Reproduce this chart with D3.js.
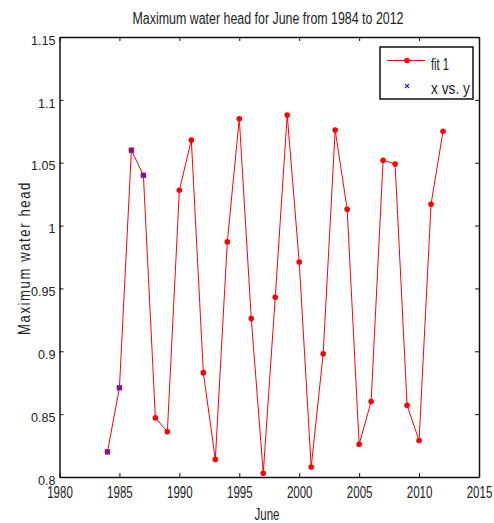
<!DOCTYPE html>
<html>
<head>
<meta charset="utf-8">
<script src="https://cdn.jsdelivr.net/npm/d3@7"></script>
<style>
  body { margin: 0; background: #fff; }
  svg text { font-family: "Liberation Sans", Arial, sans-serif; fill: #222; }
</style>
</head>
<body>
<script>
const width = 494
const height = 523
const margin = { top: 37, right: 15, bottom: 46, left: 59.5 }

// June maximum water head, 1984-2012
const years = [1984, 1985, 1986, 1987, 1988, 1989, 1990, 1991, 1992, 1993, 1994, 1995, 1996, 1997, 1998,
  1999, 2000, 2001, 2002, 2003, 2004, 2005, 2006, 2007, 2008, 2009, 2010, 2011, 2012]
const heads = [0.820, 0.871, 1.060, 1.040, 0.847, 0.836, 1.028, 1.068, 0.883, 0.814, 0.987, 1.085, 0.926, 0.803, 0.943,
  1.088, 0.971, 0.808, 0.898, 1.076, 1.013, 0.826, 0.860, 1.052, 1.049, 0.857, 0.829, 1.017, 1.075]
// raw points shown as "x vs. y"
const rawYears = [1984, 1985, 1986, 1987]
const rawHeads = [0.820, 0.871, 1.060, 1.040]

const xTicks = [1980, 1985, 1990, 1995, 2000, 2005, 2010, 2015]
const yTicks = [0.8, 0.85, 0.9, 0.95, 1, 1.05, 1.1, 1.15]

const svg = d3.select('body').append('svg')
    .attr('width', width)
    .attr('height', height)

// squeeze text horizontally, like the narrow Helvetica in the original
const condense = (sel, k) => sel.each(function () {
    const w = this.getComputedTextLength()
    d3.select(this).attr('textLength', w * k).attr('lengthAdjust', 'spacingAndGlyphs')
})

const xScale = d3.scaleLinear()
    .domain([1980, 2015])
    .range([margin.left, width - margin.right])

const yScale = d3.scaleLinear()
    .domain([0.8, 1.15])
    .range([height - margin.bottom, margin.top])

const x0 = margin.left, x1 = width - margin.right
const y0 = height - margin.bottom, y1 = margin.top

// axes (MATLAB style: ticks inside, on all four sides)
svg.append('g')
    .attr('transform', 'translate(0,' + y0 + ')')
    .call(d3.axisBottom(xScale).tickValues(xTicks).tickFormat(d3.format('d')).tickSizeInner(-4).tickSizeOuter(0).tickPadding(10))
    .call(g => g.selectAll('text').style('font-size', '16px').attr('dy', '0.716em').call(condense, 0.72))

svg.append('g')
    .attr('transform', 'translate(0,' + y1 + ')')
    .call(d3.axisTop(xScale).tickValues(xTicks).tickFormat('').tickSizeInner(-4).tickSizeOuter(0))

svg.append('g')
    .attr('transform', 'translate(' + x0 + ',0)')
    .call(d3.axisLeft(yScale).tickValues(yTicks).tickFormat(d3.format('')).tickSizeInner(-4).tickSizeOuter(0).tickPadding(4))
    .call(g => g.selectAll('text').style('font-size', '13.5px').attr('dy', '0.716em').attr('y', -2.5).call(condense, 0.93))

svg.append('g')
    .attr('transform', 'translate(' + x1 + ',0)')
    .call(d3.axisRight(yScale).tickValues(yTicks).tickFormat('').tickSizeInner(-4).tickSizeOuter(0))

svg.selectAll('.domain').attr('stroke', '#111').attr('stroke-width', 1.5)
svg.selectAll('.tick line').attr('stroke', '#111')
svg.selectAll('.tick text').attr('fill', '#222').style('font-family', '"Liberation Sans", Arial, sans-serif')

// fitted line
const line = d3.line()
    .x((d, i) => xScale(years[i]))
    .y(d => yScale(d))

svg.append('path')
    .datum(heads)
    .attr('d', line)
    .attr('fill', 'none')
    .attr('stroke', '#ff0000')
    .attr('stroke-width', 1)

svg.selectAll('circle.fit')
    .data(heads)
    .join('circle')
    .attr('class', 'fit')
    .attr('cx', (d, i) => xScale(years[i]))
    .attr('cy', d => yScale(d))
    .attr('r', 2.8)
    .attr('fill', '#ff0000')

// raw data x markers
const xMark = (cx, cy, s) => 'M' + (cx - s) + ',' + (cy - s) + 'L' + (cx + s) + ',' + (cy + s) +
    'M' + (cx - s) + ',' + (cy + s) + 'L' + (cx + s) + ',' + (cy - s)

svg.selectAll('path.raw')
    .data(rawHeads)
    .join('path')
    .attr('class', 'raw')
    .attr('d', (d, i) => xMark(xScale(rawYears[i]), yScale(d), 2.5))
    .attr('stroke', '#3a1ee8')
    .attr('stroke-width', 1.3)

// title and labels
svg.append('text')
    .attr('x', 268)
    .attr('y', 24)
    .attr('text-anchor', 'middle')
    .style('font-size', '16px')
    .attr('textLength', 271)
    .attr('lengthAdjust', 'spacingAndGlyphs')
    .text('Maximum water head for June from 1984 to 2012')

svg.append('text')
    .attr('x', 267)
    .attr('y', 519.5)
    .attr('text-anchor', 'middle')
    .style('font-size', '16px')
    .attr('textLength', 25)
    .attr('lengthAdjust', 'spacingAndGlyphs')
    .text('June')

svg.append('text')
    .attr('transform', 'translate(30,258) rotate(-90)')
    .attr('text-anchor', 'middle')
    .style('font-size', '16px')
    .style('letter-spacing', '2px')
    .attr('textLength', 154)
    .attr('lengthAdjust', 'spacingAndGlyphs')
    .text('Maximum water head')

// legend
const legend = svg.append('g').attr('transform', 'translate(380,47)')
legend.append('rect')
    .attr('width', 93)
    .attr('height', 52)
    .attr('fill', '#fff')
    .attr('stroke', '#111')
    .attr('stroke-width', 1.5)
legend.append('line')
    .attr('x1', 7).attr('x2', 45).attr('y1', 13.5).attr('y2', 13.5)
    .attr('stroke', '#ff0000').attr('stroke-width', 1)
legend.append('circle')
    .attr('cx', 27).attr('cy', 13.5).attr('r', 2.8).attr('fill', '#ff0000')
legend.append('text')
    .attr('x', 51).attr('y', 23)
    .style('font-size', '16px')
    .attr('textLength', 18)
    .attr('lengthAdjust', 'spacingAndGlyphs')
    .text('fit 1')
legend.append('path')
    .attr('d', xMark(27, 39, 2))
    .attr('stroke', '#3a1ee8').attr('stroke-width', 1.2)
legend.append('text')
    .attr('x', 51).attr('y', 47)
    .style('font-size', '16px')
    .attr('textLength', 39)
    .attr('lengthAdjust', 'spacingAndGlyphs')
    .text('x vs. y')
</script>
</body>
</html>
